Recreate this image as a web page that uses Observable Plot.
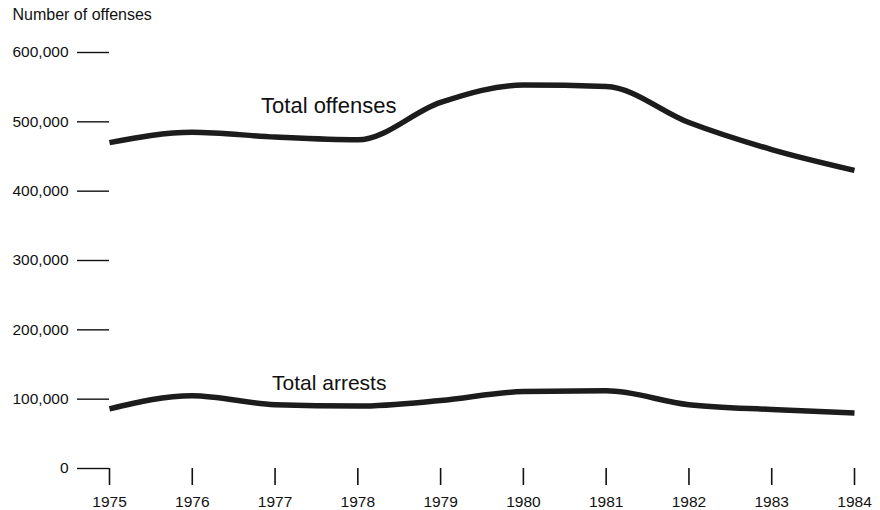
<!DOCTYPE html>
<html>
<head>
<meta charset="utf-8">
<script src="https://cdn.jsdelivr.net/npm/d3@7"></script>
<script src="https://cdn.jsdelivr.net/npm/@observablehq/plot@0.6"></script>
<style>
  html, body { margin: 0; padding: 0; background: #fff; }
  #chart svg { display: block; }
</style>
</head>
<body>
<div id="chart"></div>
<script>
const years = [1975, 1976, 1977, 1978, 1979, 1980, 1981, 1982, 1983, 1984];
const totalOffenses = [470000, 485000, 478000, 474000, 528000, 553000, 551000, 499000, 460000, 430000];
const totalArrests = [86000, 105000, 92000, 90000, 98000, 111000, 112000, 92000, 85000, 80000];
const yTicks = [0, 100000, 200000, 300000, 400000, 500000, 600000];
const axisTitle = "Number of offenses";
const seriesNames = ["Total offenses", "Total arrests"];

const offenseRows = years.map((y, i) => ({year: y, value: totalOffenses[i], series: seriesNames[0]}));
const arrestRows = years.map((y, i) => ({year: y, value: totalArrests[i], series: seriesNames[1]}));

const font = "'Liberation Sans', Arial, Helvetica, sans-serif";
const ink = "#1c1c1c";

const chart = Plot.plot({
  width: 880,
  height: 510,
  marginLeft: 109,
  marginRight: 26,
  marginTop: 52,
  marginBottom: 42,
  style: {fontFamily: font, fontSize: "15.5px", color: "#111", background: "#fff"},
  x: {domain: [1975, 1984]},
  y: {domain: [0, 600000]},
  marks: [
    Plot.axisY(yTicks, {tickSize: 32, tickPadding: 9, tickFormat: d3.format(","), label: null, strokeWidth: 1.4, fontSize: 15.5}),
    Plot.axisX(years, {tickSize: 17, tickPadding: 10, tickFormat: d => String(d), label: null, strokeWidth: 1.6, fontSize: 15.5}),
    Plot.line(offenseRows, {x: "year", y: "value", stroke: ink, strokeWidth: 5.5, curve: "monotone-x", strokeLinecap: "butt"}),
    Plot.line(arrestRows, {x: "year", y: "value", stroke: ink, strokeWidth: 5.5, curve: "monotone-x", strokeLinecap: "butt"}),
    Plot.text([offenseRows[2]], {x: "year", y: "value", text: "series", textAnchor: "start", lineAnchor: "bottom", dx: -14, dy: -24, fontSize: 22, fill: "#111"}),
    Plot.text([arrestRows[2]], {x: "year", y: "value", text: "series", textAnchor: "start", lineAnchor: "bottom", dx: -3, dy: -15, fontSize: 21, fill: "#111"}),
    Plot.text([axisTitle], {frameAnchor: "top-left", textAnchor: "start", lineAnchor: "middle", dx: -97, dy: -38, fontSize: 16, fill: "#111"})
  ]
});
document.getElementById("chart").appendChild(chart);
</script>
</body>
</html>
